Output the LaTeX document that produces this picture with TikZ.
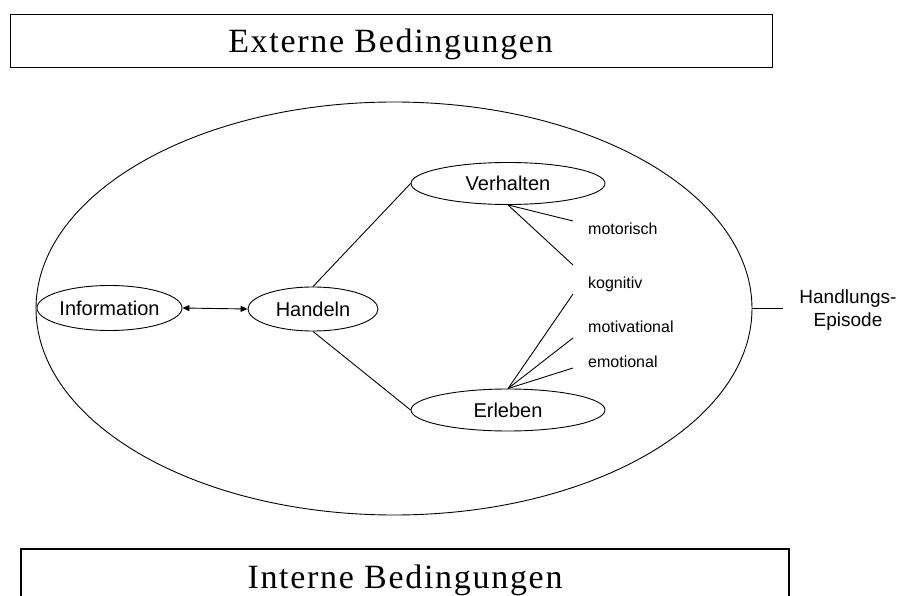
\documentclass[tikz,border=0pt]{standalone}
\usepackage{fontspec}
\setmainfont{Liberation Sans}
\newfontfamily\serifT{Liberation Serif}
\usetikzlibrary{shapes.geometric,arrows.meta}
\begin{document}
\begin{tikzpicture}[x=1pt,y=-1pt,
  oval/.style={draw,ellipse,inner sep=0pt,line width=0.9pt,font=\fontsize{20}{24}\selectfont},
  lab/.style={anchor=base west,inner sep=0pt,font=\fontsize{16}{19}\selectfont},
  condbox/.style={draw,line width=1.2pt,inner sep=0pt},
  condtext/.style={anchor=base,inner sep=0pt,font=\serifT\fontsize{34}{40}\selectfont\addfontfeature{LetterSpace=5}},
  conn/.style={line width=0.9pt}]
\useasboundingbox (0,0) rectangle (900,596);
% top box
\node[condbox,minimum width=762pt,minimum height=53pt,anchor=north west] (extbox) at (10,14) {};
\node[condtext] (ext) at (390.5,52.3) {Externe Bedingungen};
% bottom box
\coordinate (ib1) at (21,600);
\coordinate (ib2) at (789,600);
\draw[line width=1.2pt] (ib1) |- (789,549) -- (ib2);
\node[condtext] (int) at (405,588) {Interne Bedingungen};
% episode ellipse
\node[draw,ellipse,inner sep=0pt,line width=0.9pt,minimum width=716pt,minimum height=413pt] (episode) at (394,308.5) {};
% inner nodes
\node[oval,minimum width=145pt,minimum height=45pt] (info) at (109.5,308) {Information};
\node[oval,minimum width=130pt,minimum height=44pt] (hand) at (313,309) {Handeln};
\node[oval,minimum width=194pt,minimum height=42pt] (verh) at (508,183.5) {Verhalten};
\node[oval,minimum width=194pt,minimum height=42pt] (erl) at (508,410) {Erleben};
% arrow
\draw[conn,{Triangle[length=7pt,width=6pt]}-{Triangle[length=7pt,width=6pt]}] (info.east) -- (hand.west);
\draw[conn] (hand.north) -- (verh.west);
\draw[conn] (hand.south) -- (erl.west);
% sub-lines
\coordinate (mot) at (573,221);
\coordinate (kog) at (573,265);
\coordinate (kog2) at (573,294);
\coordinate (motv) at (573,338);
\coordinate (emo) at (573,368);
\draw[conn] (verh.south) -- (mot);
\draw[conn] (verh.south) -- (kog);
\draw[conn] (erl.north) -- (kog2);
\draw[conn] (erl.north) -- (motv);
\draw[conn] (erl.north) -- (emo);
\node[lab] (lmot) at (588,235) {motorisch};
\node[lab] (lkog) at (588,288) {kognitiv};
\node[lab] (lmotv) at (588,332) {motivational};
\node[lab] (lemo) at (588,367) {emotional};
% Handlungs-Episode
\coordinate (hep) at (783,308.5);
\draw[conn] (episode.east) -- (hep);
\node[align=center,inner sep=0pt,font=\fontsize{19}{23}\selectfont] (hlab) at (848,310) {Handlungs-\\Episode};
\end{tikzpicture}
\end{document}
